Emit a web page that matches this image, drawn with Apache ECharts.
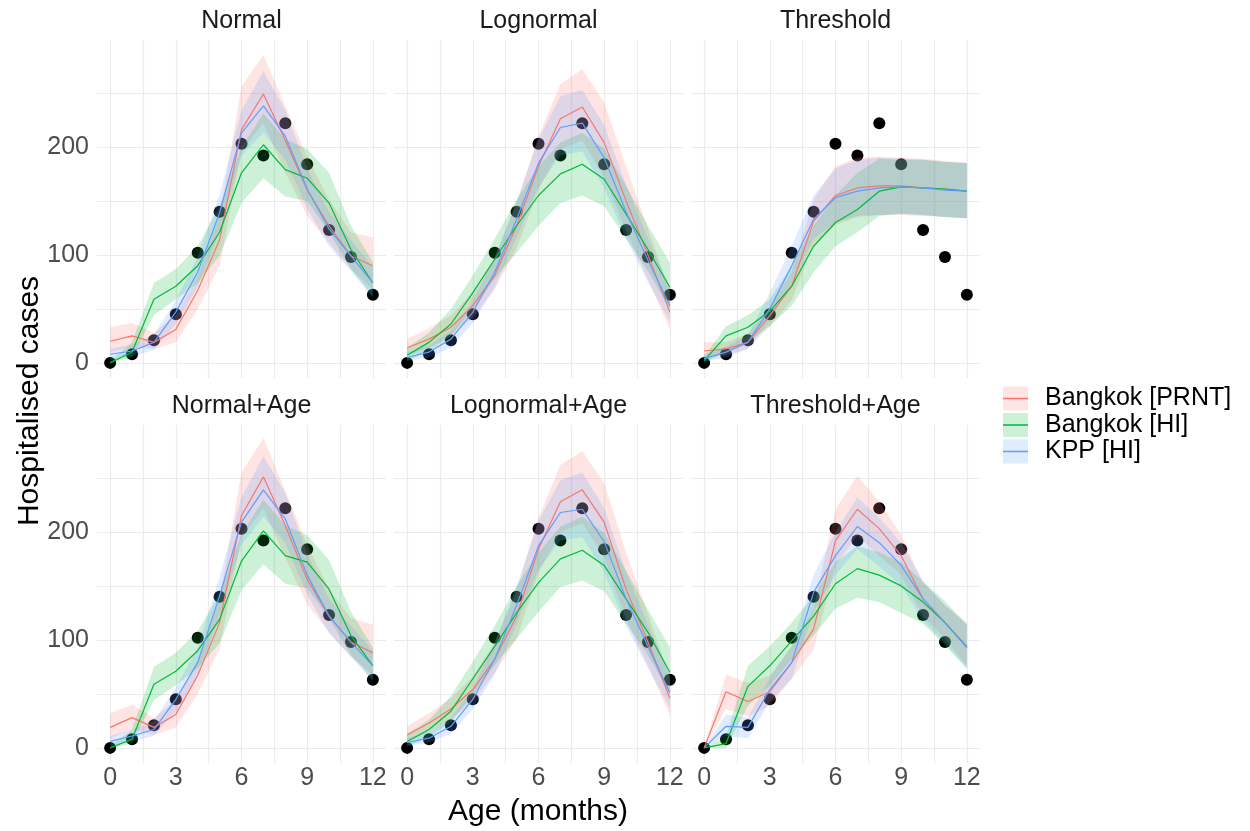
<!DOCTYPE html>
<html><head><meta charset="utf-8">
<script src="https://cdn.jsdelivr.net/npm/echarts@6/dist/echarts.min.js"></script>
<style>html,body{margin:0;padding:0;background:#fff}#c{width:1250px;height:831px}</style>
</head><body><div id="c"></div>
<script>
// ---------- data ----------
const months = [0,1,2,3,4,5,6,7,8,9,10,11,12];
const observed = [0, 8, 21, 45, 102, 140, 203, 192, 222, 184, 123, 98, 63];
const panelTitles = ['Normal','Lognormal','Threshold','Normal+Age','Lognormal+Age','Threshold+Age'];
const seriesNames = ['Bangkok [PRNT]','Bangkok [HI]','KPP [HI]'];
const xGridTicks = [0,1.5,3,4.5,6,7.5,9,10.5,12];
const xLabelTicks = [0,3,6,9,12];
const yGridTicks = [0,50,100,150,200,250];
const yLabelTicks = [0,100,200];

// Normal
const normalPrnt   = [20, 25, 19, 31, 67, 114, 216, 249, 206, 160, 127, 99, 90];
const normalPrntLo = [10, 14, 13, 19, 50, 90, 196, 222, 176, 136, 111, 87, 68];
const normalPrntHi = [33, 37, 28, 44, 80, 136, 256, 285, 238, 191, 151, 121, 116];
const normalHi     = [0, 10, 59, 71, 90, 121, 176, 202, 179, 171, 148, 105, 74];
const normalHiLo   = [0, 5, 44, 59, 74, 99, 148, 171, 154, 150, 121, 87, 62];
const normalHiHi   = [2, 19, 74, 87, 108, 145, 200, 231, 207, 198, 176, 127, 93];
const normalKpp    = [8, 11, 19, 47, 84, 139, 213, 238, 210, 161, 124, 99, 74];
const normalKppLo  = [3, 6, 12, 36, 70, 122, 192, 213, 188, 143, 108, 85, 60];
const normalKppHi  = [13, 17, 26, 58, 98, 156, 234, 270, 234, 180, 140, 114, 88];
// Lognormal
const lognPrnt   = [14, 22, 33, 53, 81, 127, 182, 226, 237, 204, 150, 100, 47];
const lognPrntLo = [7, 14, 25, 42, 68, 106, 160, 198, 206, 172, 122, 77, 31];
const lognPrntHi = [22, 32, 44, 65, 97, 148, 210, 258, 272, 241, 182, 124, 66];
const lognHi     = [7, 19, 36, 65, 96, 127, 155, 175, 184, 170, 138, 105, 70];
const lognHiLo   = [2, 11, 25, 50, 78, 102, 127, 148, 155, 145, 115, 85, 50];
const lognHiHi   = [14, 28, 50, 81, 115, 151, 182, 204, 213, 198, 164, 127, 93];
const lognKpp    = [5, 10, 22, 47, 84, 133, 185, 218, 222, 190, 140, 95, 53];
const lognKppLo  = [2, 5, 14, 37, 70, 116, 163, 192, 196, 162, 115, 75, 38];
const lognKppHi  = [10, 16, 30, 57, 98, 150, 207, 247, 253, 220, 165, 115, 70];
// Threshold
const thrPrnt   = [11, 13, 19, 44, 71, 131, 155, 162, 164, 164, 162, 161, 159];
const thrPrntLo = [4, 7, 13, 34, 58, 110, 128, 135, 137, 137, 136, 135, 134];
const thrPrntHi = [19, 19, 27, 52, 84, 151, 182, 190, 191, 190, 189, 187, 185];
const thrHi     = [2, 25, 33, 48, 71, 108, 130, 142, 159, 163, 162, 161, 159];
const thrHiLo   = [0, 10, 19, 34, 53, 84, 108, 121, 136, 138, 137, 135, 134];
const thrHiHi   = [6, 34, 44, 59, 90, 127, 155, 176, 189, 188, 188, 186, 185];
const thrKpp    = [4, 10, 19, 50, 90, 133, 153, 159, 162, 163, 162, 160, 159];
const thrKppLo  = [1, 5, 13, 39, 74, 115, 130, 136, 137, 138, 137, 135, 134];
const thrKppHi  = [8, 15, 26, 65, 108, 155, 180, 188, 190, 189, 188, 186, 185];
// Normal+Age
const normAgePrnt   = [19, 28, 19, 31, 67, 116, 215, 251, 206, 156, 122, 98, 88];
const normAgePrntLo = [9, 17, 12, 19, 50, 92, 195, 222, 176, 133, 107, 85, 67];
const normAgePrntHi = [32, 40, 28, 44, 82, 138, 255, 287, 238, 188, 147, 120, 114];
const normAgeHi     = [0, 8, 59, 71, 90, 119, 173, 201, 178, 172, 147, 104, 76];
const normAgeHiLo   = [0, 4, 44, 58, 74, 97, 146, 170, 152, 148, 120, 86, 63];
const normAgeHiHi   = [2, 17, 75, 88, 108, 143, 198, 230, 206, 197, 174, 126, 93];
const normAgeKpp    = [6, 11, 17, 45, 79, 141, 209, 239, 212, 160, 122, 98, 76];
const normAgeKppLo  = [2, 6, 11, 34, 66, 124, 188, 214, 190, 142, 106, 84, 62];
const normAgeKppHi  = [11, 17, 25, 56, 93, 158, 232, 270, 236, 180, 138, 113, 90];
// Lognormal+Age
const lognAgePrnt   = [12, 23, 36, 54, 82, 122, 184, 228, 239, 209, 147, 98, 46];
const lognAgePrntLo = [6, 15, 27, 43, 69, 101, 162, 200, 208, 177, 119, 76, 30];
const lognAgePrntHi = [20, 32, 46, 66, 98, 145, 213, 262, 275, 245, 181, 124, 64];
const lognAgeHi     = [6, 17, 34, 64, 94, 125, 153, 175, 183, 169, 138, 107, 70];
const lognAgeHiLo   = [1, 10, 24, 49, 77, 101, 126, 149, 155, 145, 115, 86, 50];
const lognAgeHiHi   = [13, 26, 48, 80, 113, 150, 181, 205, 214, 199, 164, 128, 93];
const lognAgeKpp    = [5, 9, 20, 45, 82, 132, 187, 218, 221, 191, 138, 94, 51];
const lognAgeKppLo  = [2, 5, 13, 36, 68, 115, 165, 192, 195, 163, 113, 74, 37];
const lognAgeKppHi  = [9, 15, 28, 55, 97, 150, 210, 248, 255, 222, 163, 114, 68];
// Threshold+Age
const thrAgePrnt   = [0, 52, 43, 52, 79, 110, 192, 221, 203, 178, 138, 116, 94];
const thrAgePrntLo = [0, 36, 29, 39, 64, 91, 169, 197, 178, 160, 122, 101, 76];
const thrAgePrntHi = [0, 68, 60, 67, 94, 129, 221, 252, 228, 197, 153, 132, 116];
const thrAgeHi     = [0, 4, 57, 76, 99, 122, 152, 166, 160, 150, 135, 116, 93];
const thrAgeHiLo   = [0, 0, 39, 57, 82, 104, 129, 139, 135, 125, 115, 95, 73];
const thrAgeHiHi   = [0, 11, 76, 94, 116, 141, 172, 187, 181, 172, 154, 136, 114];
const thrAgeKpp    = [0, 20, 19, 54, 79, 144, 178, 205, 190, 169, 138, 116, 93];
const thrAgeKppLo  = [0, 11, 9, 43, 64, 126, 160, 184, 168, 150, 118, 97, 74];
const thrAgeKppHi  = [0, 31, 28, 65, 94, 160, 200, 232, 213, 190, 154, 132, 114];

// ---------- build ----------
const panels = [
  [[normalPrnt, normalPrntLo, normalPrntHi],[normalHi, normalHiLo, normalHiHi],[normalKpp, normalKppLo, normalKppHi]],
  [[lognPrnt, lognPrntLo, lognPrntHi],[lognHi, lognHiLo, lognHiHi],[lognKpp, lognKppLo, lognKppHi]],
  [[thrPrnt, thrPrntLo, thrPrntHi],[thrHi, thrHiLo, thrHiHi],[thrKpp, thrKppLo, thrKppHi]],
  [[normAgePrnt, normAgePrntLo, normAgePrntHi],[normAgeHi, normAgeHiLo, normAgeHiHi],[normAgeKpp, normAgeKppLo, normAgeKppHi]],
  [[lognAgePrnt, lognAgePrntLo, lognAgePrntHi],[lognAgeHi, lognAgeHiLo, lognAgeHiHi],[lognAgeKpp, lognAgeKppLo, lognAgeKppHi]],
  [[thrAgePrnt, thrAgePrntLo, thrAgePrntHi],[thrAgeHi, thrAgeHiLo, thrAgeHiHi],[thrAgeKpp, thrAgeKppLo, thrAgeKppHi]]
];
const lineColors = ['#F8766D','#00BA38','#619CFF'];
const fillColors = ['rgba(248,118,109,0.2)','rgba(0,186,56,0.2)','rgba(97,156,255,0.2)'];
const FONT = 'Liberation Sans, Arial, Helvetica, sans-serif';
const colLeft = [97, 394, 691];
const rowTop = [40, 425];
const PW = 289, PH = 338;

const grids = [], xAxes = [], yAxes = [], titles = [], series = [];
const gridLine = {show: true, lineStyle: {color: '#ebebeb', width: 1.2}};
for (let p = 0; p < 6; p++) {
  const r = Math.floor(p / 3), c = p % 3;
  grids.push({left: colLeft[c], top: rowTop[r], width: PW, height: PH, containLabel: false});
  xAxes.push({
    type: 'value', gridIndex: p, min: -0.6, max: 12.6,
    axisLine: {show: false},
    axisTick: {show: false, customValues: xGridTicks},
    splitLine: gridLine,
    axisLabel: {show: r === 1, customValues: xLabelTicks, fontSize: 25, color: '#4d4d4d', fontFamily: FONT, margin: 3}
  });
  yAxes.push({
    type: 'value', gridIndex: p, min: -14, max: 299,
    axisLine: {show: false},
    axisTick: {show: false, customValues: yGridTicks},
    splitLine: gridLine,
    axisLabel: {show: c === 0, customValues: yLabelTicks, fontSize: 25, color: '#4d4d4d', fontFamily: FONT, margin: 8}
  });
  titles.push({
    text: panelTitles[p], left: colLeft[c] + PW / 2, top: rowTop[r] - 31, textAlign: 'center', padding: 0,
    textStyle: {fontSize: 25, fontWeight: 'normal', color: '#1a1a1a', fontFamily: FONT}
  });
  // observed points
  series.push({
    type: 'scatter', xAxisIndex: p, yAxisIndex: p, z: 1, silent: true,
    symbolSize: 12, itemStyle: {color: '#000', opacity: 1},
    data: months.map((m, i) => [m, observed[i]])
  });
  // ribbons
  panels[p].forEach((trip, k) => {
    const mid = trip[0], lo = trip[1], hi = trip[2];
    series.push({
      type: 'custom', name: seriesNames[k], xAxisIndex: p, yAxisIndex: p, z: 2, silent: true, clip: true,
      itemStyle: {color: fillColors[k]},
      data: months.map((m, i) => [m, lo[i], hi[i]]),
      encode: {x: 0, y: [1, 2]},
      renderItem: function (params, api) {
        if (params.dataIndex !== 0) return null;
        const up = months.map((m, i) => api.coord([m, hi[i]]));
        const dn = months.map((m, i) => api.coord([m, lo[i]])).reverse();
        return {type: 'polygon', shape: {points: up.concat(dn)}, style: {fill: fillColors[k]}};
      }
    });
  });
  // lines
  panels[p].forEach((trip, k) => {
    series.push({
      type: 'line', name: seriesNames[k], xAxisIndex: p, yAxisIndex: p, z: 3, silent: true,
      showSymbol: false, symbol: 'none',
      lineStyle: {color: lineColors[k], width: 1.2},
      itemStyle: {color: lineColors[k]},
      data: months.map((m, i) => [m, trip[0][i]])
    });
  });
}

const boxIcon = 'path://M0,0h25v24h-25z M37,24h-0.01v-0.01z';
const lineIcon = 'path://M0,0h0.01v0.01z M0,11.3h25v1.4h-25z M37,24h-0.01v-0.01z';
const legendBase = {
  orient: 'vertical', left: 1003, top: 386, itemWidth: 37, itemHeight: 24, itemGap: 1.5,
  selectedMode: false, padding: 0
};
const legends = [
  Object.assign({}, legendBase, {
    data: seriesNames.map((n, k) => ({name: n, icon: boxIcon, itemStyle: {color: fillColors[k]}})),
    textStyle: {fontSize: 25, lineHeight: 24, color: '#000', fontFamily: FONT}
  }),
  Object.assign({}, legendBase, {
    data: seriesNames.map((n, k) => ({name: n, icon: lineIcon, itemStyle: {color: lineColors[k]}})),
    textStyle: {fontSize: 25, lineHeight: 24, color: 'rgba(0,0,0,0)', fontFamily: FONT}
  })
];

const chart = echarts.init(document.getElementById('c'), null, {renderer: 'canvas'});
chart.setOption({
  animation: false,
  backgroundColor: '#fff',
  title: titles,
  grid: grids,
  xAxis: xAxes,
  yAxis: yAxes,
  legend: legends,
  series: series,
  graphic: [
    {type: 'text', x: 538, y: 812, style: {text: 'Age (months)', fontSize: 30, fill: '#000', fontFamily: FONT, textAlign: 'center', textVerticalAlign: 'middle'}},
    {type: 'text', x: 30, y: 401, rotation: Math.PI / 2, style: {text: 'Hospitalised cases', fontSize: 30, fill: '#000', fontFamily: FONT, textAlign: 'center', textVerticalAlign: 'middle'}}
  ]
});
</script></body></html>
